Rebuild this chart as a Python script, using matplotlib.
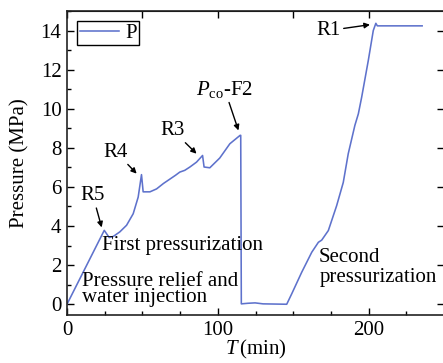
import matplotlib
matplotlib.use("Agg")
import matplotlib.pyplot as plt
from matplotlib.ticker import MultipleLocator, NullFormatter

plt.rcParams['font.family'] = ['Liberation Serif', 'DejaVu Serif']
plt.rcParams['mathtext.fontset'] = 'custom'
plt.rcParams['mathtext.rm'] = 'Liberation Serif'
plt.rcParams['mathtext.it'] = 'Liberation Serif:italic'

# Pressure history (time in min, pressure in MPa)
time_min = [0, 24.7, 28, 30.7, 35, 39.5, 43.9, 47.2, 49.4, 50.5, 55, 59.4, 64,
            68.2, 72, 74.8, 78.1, 81.5, 85.9, 89.9, 90.9, 94.7, 101.3, 108,
            114.8, 115.2, 115.6, 120, 124.7, 130, 145.7, 149, 155.6, 162.3,
            166.7, 168.9, 173.3, 178.8, 183.2, 186.5, 190.9, 193.2, 195.4,
            199.8, 203.1, 204.8, 205.8, 235.5]
pressure_mpa = [0, 3.78, 3.41, 3.47, 3.7, 4.04, 4.63, 5.48, 6.63, 5.75, 5.75,
                5.9, 6.18, 6.4, 6.6, 6.76, 6.85, 7.02, 7.27, 7.61, 7.02, 6.98,
                7.48, 8.21, 8.64, 8.64, 0.02, 0.05, 0.07, 0.02, 0.0, 0.53,
                1.63, 2.66, 3.17, 3.28, 3.77, 5.04, 6.23, 7.70, 9.15, 9.74,
                10.59, 12.47, 14.0, 14.37, 14.24, 14.24]

line_color = '#5e72cc'
fs = 15

fig = plt.figure(figsize=(4.43, 3.63), dpi=100)
ax = fig.add_axes([67 / 443, 1 - 315 / 363, 377 / 443, 304 / 363])
ax.plot(time_min, pressure_mpa, color=line_color, lw=1.15, label='P')

ax.set_xlim(0, 250)
ax.set_ylim(-0.55, 15)

ax.xaxis.set_major_locator(MultipleLocator(100))
ax.xaxis.set_minor_locator(MultipleLocator(25))
ax.yaxis.set_major_locator(MultipleLocator(2))
ax.yaxis.set_minor_locator(MultipleLocator(1))
ax.tick_params(axis='both', which='major', direction='in', length=5,
               width=1, labelsize=fs, pad=4)
ax.tick_params(axis='both', which='minor', direction='in', length=3, width=1)
for s in ax.spines.values():
    s.set_linewidth(1.2)
    s.set_color('#222222')

top = ax.secondary_xaxis('top')
top.xaxis.set_major_locator(MultipleLocator(50))
top.xaxis.set_major_formatter(NullFormatter())
top.tick_params(direction='in', length=5, width=1)
right = ax.secondary_yaxis('right')
right.yaxis.set_major_locator(MultipleLocator(2))
right.yaxis.set_major_formatter(NullFormatter())
right.tick_params(direction='in', length=5, width=1)

ax.set_ylabel('Pressure (MPa)', fontsize=fs, labelpad=8)
ax.set_xlabel(r'$T\,$(min)', fontsize=fs, labelpad=-1)

leg = ax.legend(loc='upper left', fontsize=fs, frameon=True, fancybox=False,
                edgecolor='black', handlelength=1.9, handletextpad=0.3,
                borderpad=0.1, borderaxespad=0.5, framealpha=1)
leg.get_frame().set_linewidth(1.0)

arrow = dict(arrowstyle='-|>', color='black', lw=1.0, mutation_scale=8,
             shrinkA=0, shrinkB=0)
ax.annotate('R1', xy=(200.9, 14.3), xytext=(173.6, 14.0), fontsize=fs,
            ha='center', va='center', arrowprops=arrow)
ax.annotate('R3', xy=(85.9, 7.7), xytext=(70.2, 8.89), fontsize=fs,
            ha='center', va='center', arrowprops=arrow)
ax.annotate('R4', xy=(46.2, 6.68), xytext=(32.5, 7.78), fontsize=fs,
            ha='center', va='center', arrowprops=arrow)
ax.annotate('R5', xy=(23.0, 3.93), xytext=(17.2, 5.55), fontsize=fs,
            ha='center', va='center', arrowprops=arrow)
ax.annotate(r'$P_{\rm co}$-F2', xy=(113.7, 8.89), xytext=(104.5, 11.0),
            fontsize=fs, ha='center', va='center', arrowprops=arrow)

ax.text(23.0, 3.0, 'First pressurization', fontsize=fs, ha='left', va='center')
ax.text(9.7, 1.18, 'Pressure relief and', fontsize=fs, ha='left', va='center')
ax.text(9.7, 0.36, 'water injection', fontsize=fs, ha='left', va='center')
ax.text(166.7, 2.39, 'Second', fontsize=fs, ha='left', va='center')
ax.text(167.5, 1.38, 'pressurization', fontsize=fs, ha='left', va='center')

fig.savefig('out.png', dpi=100)
